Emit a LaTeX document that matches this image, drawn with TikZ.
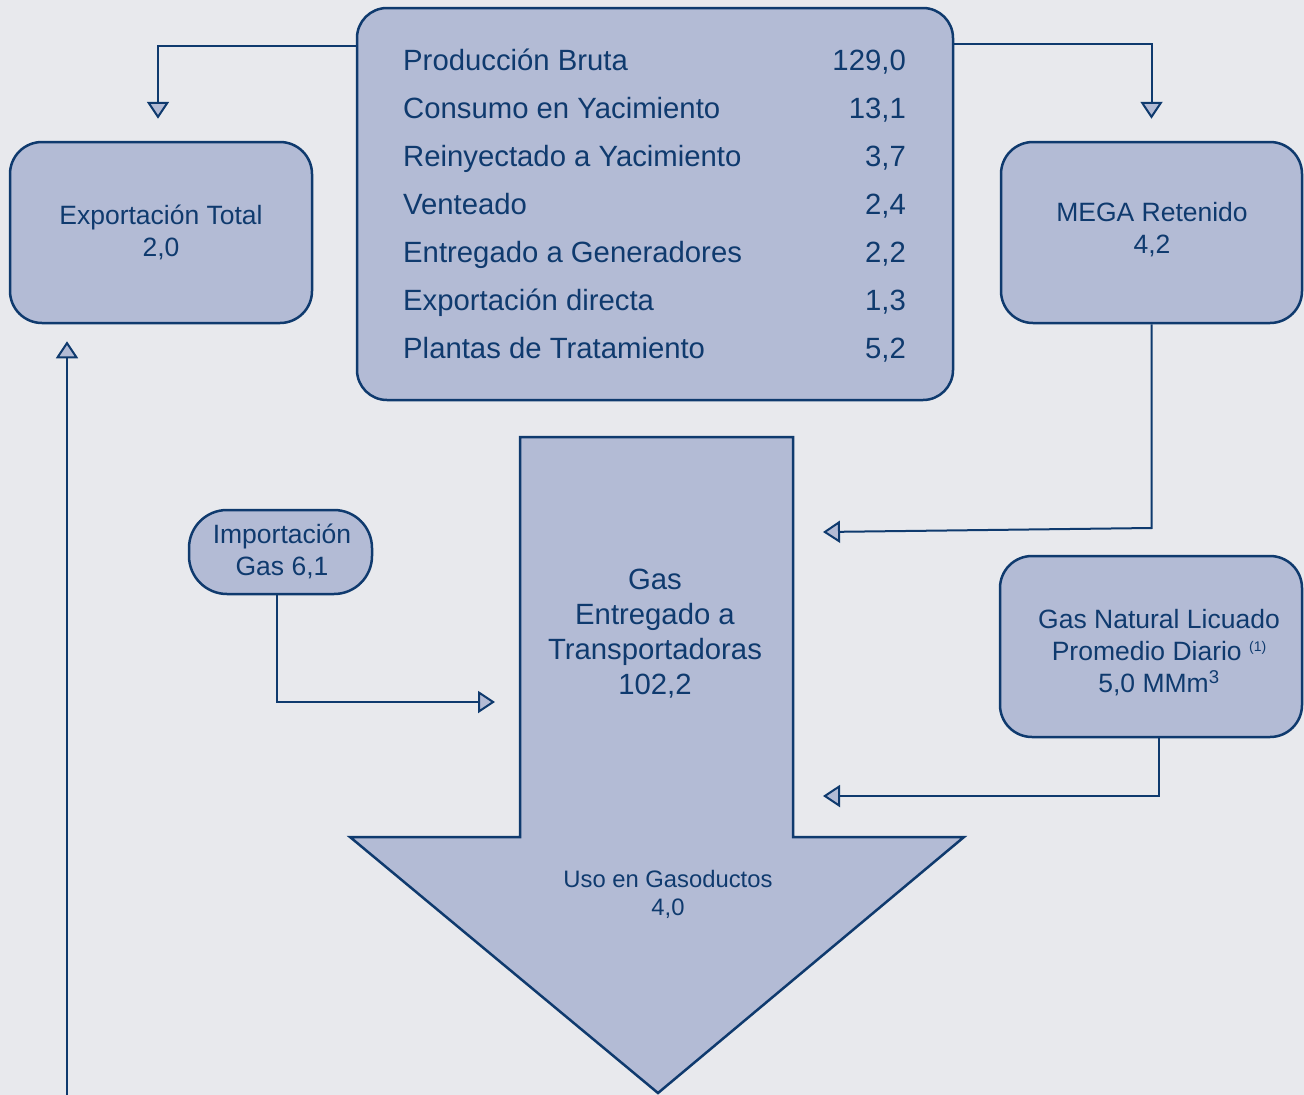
\documentclass[tikz,border=0pt]{standalone}
\usepackage{fontspec}
\setmainfont{Liberation Sans}
\usetikzlibrary{arrows.meta,calc}
\definecolor{bgGray}{HTML}{E8E9ED}
\definecolor{boxFill}{HTML}{B3BBD5}
\definecolor{lineNavy}{HTML}{0F3A6E}
\newcommand*{\boxFont}{\fontsize{26.5}{32}\selectfont}
\newcommand*{\rowFont}{\fontsize{29.3}{34}\selectfont}
\newcommand*{\xMaxPic}{1304}
\newcommand*{\yMaxPic}{1095}

\tikzset{
  flowbox/.style={draw=lineNavy, line width=2.5pt, fill=boxFill, rounded corners=32pt,
    inner sep=0pt, align=center, text=lineNavy, font=\boxFont},
  boxtext/.style={text=lineNavy, font=\boxFont, align=center, inner sep=0pt},
  rowtext/.style={text=lineNavy, font=\rowFont, inner sep=0pt},
  link/.style={draw=lineNavy, line width=2pt,
    -{Triangle[length=17pt,width=22pt,fill=boxFill]}},
}

\begin{document}
\begin{tikzpicture}[x=1pt,y=-1pt]
	\useasboundingbox (0,0) rectangle (\xMaxPic,\yMaxPic);
	\fill [bgGray] (0,0) rectangle (\xMaxPic,\yMaxPic);

	% main production box
	\node [flowbox, rounded corners=30pt, minimum width=596pt, minimum height=392pt] (prod) at (655,204) {};
	\foreach \y/\lab/\val [count=\i] in {60/Producción Bruta/{129,0}, 108/Consumo en Yacimiento/{13,1},
	    156/Reinyectado a Yacimiento/{3,7}, 204/Venteado/{2,4}, 252/Entregado a Generadores/{2,2},
	    300/Exportación directa/{1,3}, 348/Plantas de Tratamiento/{5,2}} {
	    \node [rowtext, anchor=base west] (lab\i) at (403,\y+10.5) {\lab};
	    \node [rowtext, anchor=base east] (val\i) at (906,\y+10.5) {\val};
	}

	% side boxes
	\node [flowbox, minimum width=302pt, minimum height=181pt] (expo) at (161,232.5) {};
	\node [boxtext] (expoText) at (161,232) {Exportación Total\\2,0};
	\node [flowbox, minimum width=301pt, minimum height=181pt] (mega) at (1151.5,232.5) {};
	\node [boxtext] (megaText) at (1152,230) {MEGA Retenido\\4,2};
	\node [flowbox, rounded corners=38pt, minimum width=183pt, minimum height=84pt] (imp) at (280.5,552) {};
	\node [boxtext] (impText) at (282,551) {Importación\\Gas 6,1};
	\node [flowbox, minimum width=302pt, minimum height=181pt] (gnl) at (1151,646.5) {};
	\node [boxtext] (gnlText) at (1159,653) {Gas Natural Licuado\\Promedio Diario {\fontsize{14}{14}\selectfont\raisebox{9pt}{(1)}}\\5,0 MMm\textsuperscript{3}};

	% big arrow
	\draw [draw=lineNavy, line width=2.5pt, fill=boxFill] (520,437) -- (793,437) -- (793,837) -- (964,837)
	    -- (658,1093) -- (350,837) -- (520,837) -- cycle;
	\node [text=lineNavy, align=center, font=\fontsize{29.3}{35}\selectfont] (gas) at (655,633.5) {Gas\\Entregado a\\Transportadoras\\102,2};
	\node [text=lineNavy, align=center, font=\fontsize{23.8}{28}\selectfont] (uso) at (668,894) {Uso en Gasoductos\\4,0};

	% connectors
	\coordinate (foot) at (67,\yMaxPic);
	\coordinate (inImp) at (495,702);
	\coordinate (inMega) at (823,532);
	\coordinate (inGnl) at (823,796);
	\draw [link] ([yshift=-39pt]prod.north west) -| ([xshift=-3pt,yshift=22pt]expo.north);
	\draw [link] ([yshift=-37pt]prod.north east) -| ([yshift=22pt]mega.north);
	\draw [link] (foot) -- ($(foot |- expo.south)+(0,17)$);
	\draw [link] ([xshift=-3.5pt]imp.south) |- (inImp);
	\draw [link] (mega.south) -- (mega.south |- 0,528) -- (inMega);
	\draw [link] ([xshift=8pt]gnl.south) |- (inGnl);
\end{tikzpicture}
\end{document}
